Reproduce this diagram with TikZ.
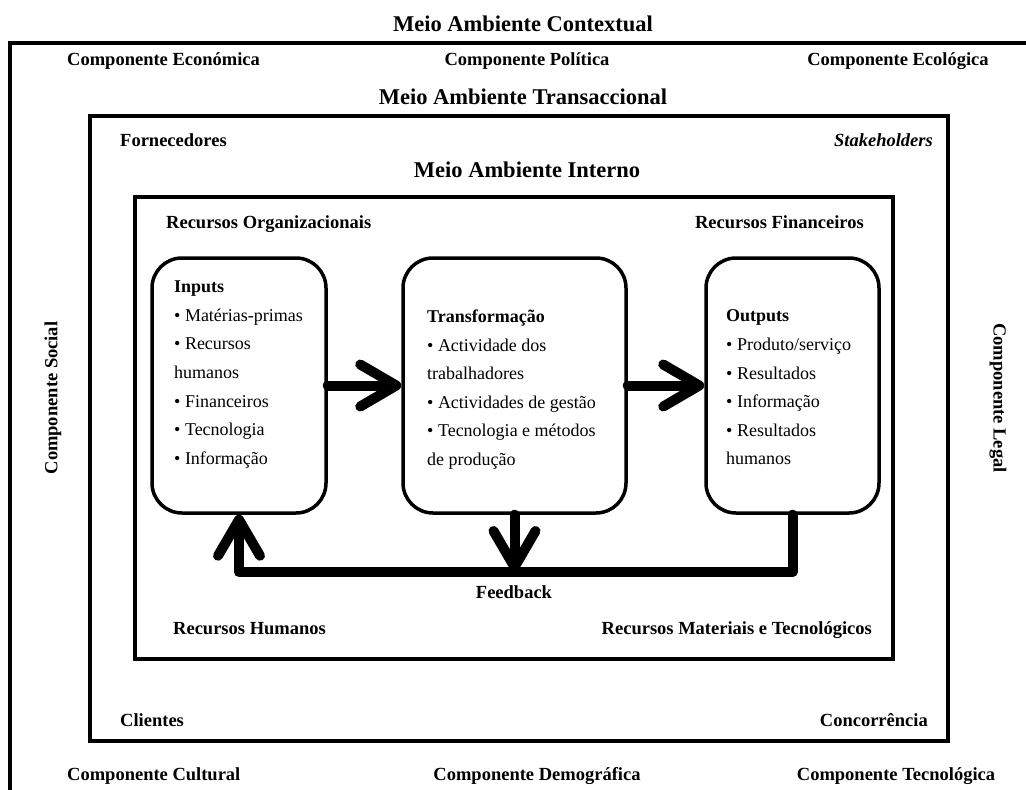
\documentclass[tikz,border=0pt]{standalone}
\usepackage{fontspec}
\setmainfont{Liberation Serif}
\usetikzlibrary{arrows.meta}
\begin{document}
\begin{tikzpicture}[x=1pt,y=-1pt,
  lbl/.style={font=\fontsize{18.5}{22}\selectfont\bfseries, inner sep=0pt},
  ttl/.style={font=\fontsize{22.5}{26}\selectfont\bfseries, inner sep=0pt},
  frame/.style={draw, line width=4pt},
  stagebox/.style={draw, line width=3.5pt, rounded corners=30pt, minimum height=255pt},
  body/.style={font=\fontsize{18}{28.6}\selectfont, align=left, inner sep=0pt, anchor=north west},
  flow/.style={line width=10pt, line cap=round, line join=round,
    -{Straight Barb[length=36pt,width=42pt,line width=10pt,round]}},
]
\useasboundingbox (0,0) rectangle (1026,790);

% outer environment frame (runs off the page to the right and bottom)
\begin{scope}
  \clip (0,0) rectangle (1026,790);
  \draw[line width=4.5pt] (1040,43) -- (10,43) -- (10,800);
\end{scope}
% transactional and internal frames
\draw[frame] (90,116) rectangle (948,741);
\draw[frame] (135,197) rectangle (893,659);

% titles
\node[ttl, anchor=base] (tctx) at (523,31) {Meio Ambiente Contextual};
\node[ttl, anchor=base] (ttra) at (523,104) {Meio Ambiente Transaccional};
\node[ttl, anchor=base] (tint) at (527,177) {Meio Ambiente Interno};

% contextual components
\node[lbl, anchor=base west] (ceco) at (67,65) {Componente Económica};
\node[lbl, anchor=base] (cpol) at (527,65) {Componente Política};
\node[lbl, anchor=base] (cecl) at (898,65) {Componente Ecológica};
\node[lbl, anchor=base west] (ccul) at (67,780) {Componente Cultural};
\node[lbl, anchor=base] (cdem) at (537,780) {Componente Demográfica};
\node[lbl, anchor=base] (ctec) at (896,780) {Componente Tecnológica};
\node[lbl, rotate=90] (csoc) at (53,398) {Componente Social};
\node[lbl, rotate=-90] (cleg) at (998,398) {Componente Legal};

% transactional actors
\node[lbl, anchor=base west] (forn) at (120,146) {Fornecedores};
\node[lbl, anchor=base east] (stak) at (933,146) {\itshape Stakeholders};
\node[lbl, anchor=base west] (clie) at (120,726) {Clientes};
\node[lbl, anchor=base east] (conc) at (928,726) {Concorrência};

% internal resources
\node[lbl, anchor=base west] (rorg) at (166,228) {Recursos Organizacionais};
\node[lbl, anchor=base east] (rfin) at (864,228) {Recursos Financeiros};
\node[lbl, anchor=base west] (rhum) at (173,634) {Recursos Humanos};
\node[lbl, anchor=base east] (rmat) at (872,634) {Recursos Materiais e Tecnológicos};

% process stages
\node[stagebox, minimum width=174pt] (inp) at (239,385.5) {};
\node[stagebox, minimum width=223pt] (trf) at (514.5,385.5) {};
\node[stagebox, minimum width=173pt] (outp) at (792.5,385.5) {};

\node[body] (inptxt) at (174,280.7) {\textbf{Inputs}\\
  • Matérias-primas\\ • Recursos\\ humanos\\ • Financeiros\\ • Tecnologia\\ • Informação};
\node[body] (trftxt) at (427,309.7) {\textbf{Transformação}\\
  • Actividade dos\\ trabalhadores\\ • Actividades de gestão\\ • Tecnologia e métodos\\ de produção};
\node[body] (outtxt) at (726,309.7) {\textbf{Outputs}\\
  • Produto/serviço\\ • Resultados\\ • Informação\\ • Resultados\\ humanos};

% flows
\coordinate (loop) at (514.5,572);
\draw[flow] (inp) -- (trf);
\draw[flow] (trf) -- (outp);
\draw[flow] (trf) -- (loop);
\draw[flow] (outp.south) |- (loop) -| (inp.south);
\node[lbl, anchor=base] (fb) at (514,598) {Feedback};
\end{tikzpicture}
\end{document}
